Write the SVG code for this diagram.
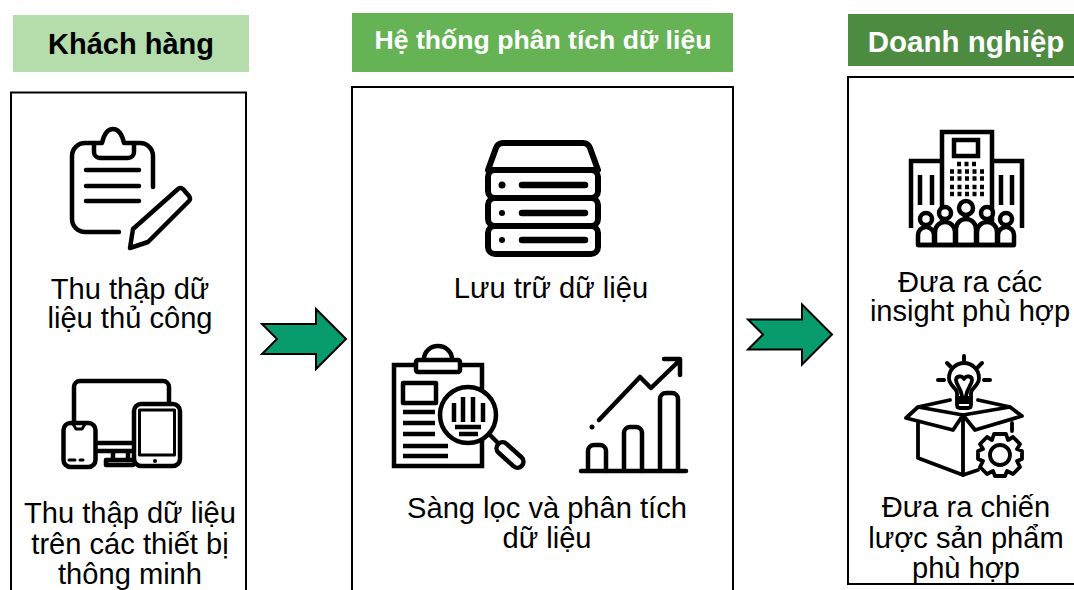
<svg xmlns="http://www.w3.org/2000/svg" width="1074" height="590" viewBox="0 0 1074 590">
<style>
text{font-family:"Liberation Sans",Arial,sans-serif;fill:#000;text-anchor:middle}
.h{font-weight:bold}
.t{font-size:29.100px}
.box{fill:#fff;stroke:#000;stroke-width:2}
.i{fill:none;stroke:#000;stroke-width:4.500;stroke-linecap:round;stroke-linejoin:round}
.w{fill:#fff}
.k{fill:#000;stroke:none}
.arrow{fill:#079B6D;stroke:#000;stroke-width:2;stroke-linejoin:miter}
</style>
<rect width="1074" height="590" fill="#fff"/>
<g id="khach-hang">
<rect x="13" y="15" width="236" height="57" fill="#B5DCAB"/>
<text class="h" x="131" y="54" font-size="29">Khách hàng</text>
<rect class="box" x="11" y="92.500" width="235" height="510"/>
<g class="i" id="icon-clipboard">
<path d="M153 187V156a13 13 0 0 0-13-13H134M94 143H85a13 13 0 0 0-13 13V219a13 13 0 0 0 13 13H119"/>
<path d="M94 143V152a6 6 0 0 0 6 6H128a6 6 0 0 0 6-6V143H124C122 134 118 129 113 129S104 134 102 143Z"/>
<path d="M86 170H139M86 186H139M86 201H139"/>
<path d="M178 189Q180 187 183 189L189 196Q191 199 189 201L148 242L130 248L133 229Z"/>
</g>
<text class="t" x="130" y="299">Thu thập dữ</text>
<text class="t" x="130" y="328">liệu thủ công</text>
<g class="i" id="icon-devices">
<path d="M74 422V387a6 6 0 0 1 6-6H163a6 6 0 0 1 6 6V403"/>
<path d="M95 443H133M95 451H133M113 451V458M128 451V458M106 465H133M106 465V460H133"/>
<rect class="w" x="134" y="404" width="46" height="62" rx="7"/>
<rect x="139.500" y="410" width="35" height="45" style="stroke-width:3"/>
<circle class="k" cx="155" cy="461" r="2"/>
<rect class="w" x="63.500" y="423" width="32" height="44" rx="7"/>
<path d="M73 424L76 429H82L85 424" style="stroke-width:3"/>
<path d="M69 460H75M80 460H83" style="stroke-width:3"/>
</g>
<text class="t" x="130" y="523">Thu thập dữ liệu</text>
<text class="t" x="130" y="554">trên các thiết bị</text>
<text class="t" x="130" y="584">thông minh</text>
</g>
<g id="he-thong">
<rect x="352" y="13" width="381" height="59" fill="#65B354"/>
<text class="h" x="543" y="49" font-size="26.600" style="fill:#fff">Hệ thống phân tích dữ liệu</text>
<rect class="box" x="352" y="87" width="381" height="515"/>
<g id="icon-server" class="i" style="stroke-width:6">
<path d="M503 143H583Q588 143 590 148L598 170H488L496 148Q498 143 503 143Z"/>
<rect x="488" y="170" width="110" height="28" rx="7"/>
<rect x="488" y="198" width="110" height="28" rx="7"/>
<rect x="488" y="226" width="110" height="28" rx="7"/>
<path d="M522 185H585M522 213H585M522 240H585" style="stroke-width:6.500"/>
<circle class="k" cx="502" cy="185" r="3.500"/><circle class="k" cx="502" cy="213" r="3"/><circle class="k" cx="502" cy="240" r="3"/>
</g>
<text class="t" x="551" y="298">Lưu trữ dữ liệu</text>
<g id="icon-search" class="i" style="stroke-linecap:butt">
<path d="M394 365H482V466H394Z" style="stroke-linejoin:miter"/>
<rect class="w" x="416" y="360" width="44" height="12" rx="2"/>
<path d="M424 359A14 13 0 0 1 452 359"/>
<rect x="403" y="383" width="33" height="20"/>
<path d="M403 412H435M403 423H435M403 434H435M403 446H448M403 456H448"/>
<circle class="w" cx="468" cy="415" r="28"/>
<path d="M454 403V422M463 397V422M473 397V422M483 403V422M455 427H481M459 434H478"/>
<path d="M490 435L498 443"/>
<rect class="w" x="494" y="449" width="32" height="12" rx="6" transform="rotate(42 510 455)"/>
</g>
<g id="icon-chart" class="i">
<path d="M581 471H686"/>
<path d="M588 471V451a6 6 0 0 1 6-6H600a6 6 0 0 1 6 6V471M624 471V433a6 6 0 0 1 6-6H636a6 6 0 0 1 6 6V471M660 471V399a6 6 0 0 1 6-6H672a6 6 0 0 1 6 6V471"/>
<path d="M599 420L640 377L651 388L680 360M664 359H680V375"/>
<circle class="k" cx="592" cy="427" r="2.500"/>
</g>
<text class="t" x="547" y="518">Sàng lọc và phân tích</text>
<text class="t" x="547" y="548">dữ liệu</text>
</g>
<g id="doanh-nghiep">
<rect x="848" y="14" width="226" height="52" fill="#4D8C40"/>
<text class="h" x="966" y="52" font-size="29.500" style="fill:#fff">Doanh nghiệp</text>
<rect class="box" x="848" y="77" width="240" height="507"/>
<g id="icon-building" class="i" style="stroke-linejoin:miter;stroke-linecap:butt">
<path d="M942 225V132H992V225M942 161H911V228M992 161H1022V228"/>
<rect x="954" y="140" width="24" height="16"/>
<path d="M920 175V205M932 175V205M1001 175V205M1012 175V205"/>
<path d="M957 164H977M950 171.500H986M950 178.500H986M950 187H986M950 194H986" style="stroke-dasharray:4 3.500"/>
<g style="stroke-linejoin:round">
<path class="w" d="M918 245V235a8 8 0 0 1 16 0V245Z"/>
<path class="w" d="M998 245V235a8 8 0 0 1 16 0V245Z"/>
<path class="w" d="M935 245V232a10 10 0 0 1 20 0V245Z"/>
<path class="w" d="M977 245V232a10 10 0 0 1 20 0V245Z"/>
<path class="w" d="M956 245V229a10 10 0 0 1 20 0V245Z"/>
<circle class="w" cx="926" cy="219" r="6"/><circle class="w" cx="1006" cy="219" r="6"/>
<circle class="w" cx="945" cy="213" r="6"/><circle class="w" cx="987" cy="213" r="6"/>
<circle class="w" cx="966" cy="208" r="7"/>
</g>
<path d="M918 245H1015"/>
</g>
<text class="t" x="970" y="292">Đưa ra các</text>
<text class="t" x="970" y="321">insight phù hợp</text>
<g id="icon-box" class="i" style="stroke-width:3.800">
<path d="M964 356V361M947 363L951 367M982 363L978 367M938 380H944M984 380H990" style="stroke-width:4"/>
<path d="M957 398V393C957 388 949 386 949 378A15 15 0 0 1 979 378C979 386 971 388 971 393V398" />
<path d="M957 398H971V405Q971 408 968 408H960Q957 408 957 405ZM958 402H970"/>
<path d="M962 396C961 388 956 385 956 380C956 376 962 375 964 379C966 375 972 376 972 380C972 385 967 388 966 396"/>
<path d="M918 422V458L963 475V415M963 415L953 430L906 418L918 407L950 400M963 415L975 430L1022 416L1010 407L978 400M918 407L963 415L1010 407"/>
<path d="M963 475L978 470M1012 423V431"/>
<path class="w" d="M994 434H1006L1008 440L1013 437L1020 444L1017 449L1022 451V459L1017 461L1020 467L1013 474L1007 471L1005 476H995L993 471L987 474L980 467L983 461L978 459V451L983 449L980 444L987 437L992 440Z"/>
<circle cx="1000" cy="455" r="10"/>
</g>
<text class="t" x="966" y="517">Đưa ra chiến</text>
<text class="t" x="966" y="548">lược sản phẩm</text>
<text class="t" x="966" y="578">phù hợp</text>
</g>
<g id="connectors">
<path class="arrow" d="M262 324H316V309L346 339L316 369V354H262L277 339Z"/>
<path class="arrow" d="M748 319.500H802V304.500L832 334.500L802 364.500V349.500H748L763 334.500Z"/>
</g>
</svg>
